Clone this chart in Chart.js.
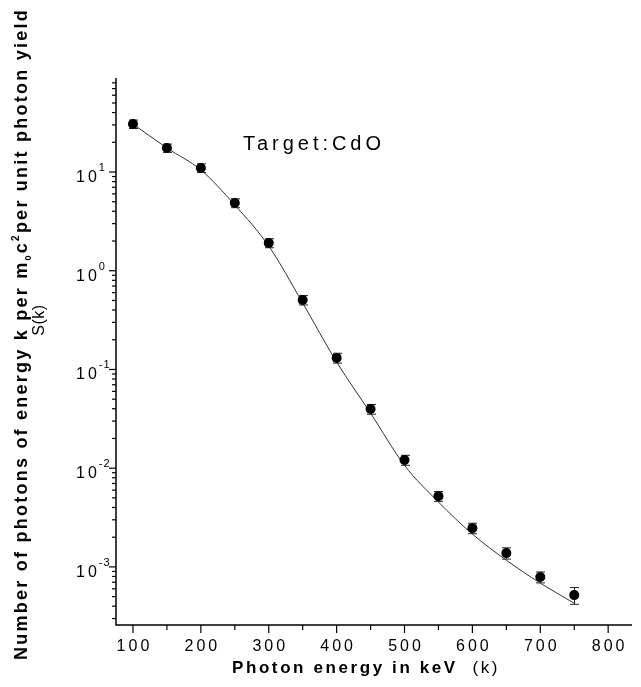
<!DOCTYPE html>
<html>
<head>
<meta charset="utf-8">
<script src="https://cdn.jsdelivr.net/npm/chart.js@4.4.1/dist/chart.umd.min.js"></script>
<style>
  html, body { margin: 0; padding: 0; background: #fff; }
</style>
</head>
<body>
<canvas id="myChart" width="641" height="687"></canvas>
<script>
// photon energy k in keV
const energies = [100, 150, 200, 250, 300, 350, 400, 450, 500, 550, 600, 650, 700, 750];
const measured = [30.6, 17.5, 11.0, 4.85, 1.91, 0.505, 0.131, 0.0397, 0.0121, 0.00521, 0.00247, 0.00138, 0.000789, 0.000518];
// error bar half-heights
const measuredErr = [3.0, 1.7, 1.1, 0.5, 0.2, 0.055, 0.015, 0.0045, 0.0014, 0.0006, 0.0003, 0.00018, 0.0001, 0.0001];
// fitted curve through the points
const fitted = [30.6, 17.5, 10.5, 4.63, 1.78, 0.471, 0.119, 0.0361, 0.0107, 0.00454, 0.00215, 0.00117, 0.000685, 0.000429];

const xTickLabels = [100, 200, 300, 400, 500, 600, 700, 800];
const xMinorTicks = [150, 250, 350, 450, 550, 650, 750];
const yMajorTicks = [10, 1, 0.1, 0.01, 0.001];
const yExponents = ["1", "0", "-1", "-2", "-3"];
const yMinorMultipliers = [2, 3, 4, 5, 6, 7, 8, 9];

const FONT = "'Liberation Sans', Arial, sans-serif";

// helper: draw text runs with letter spacing, returns width
function drawRuns(ctx, runs, x, y, spacing) {
  let cx = x;
  runs.forEach(r => {
    ctx.font = r.font;
    ctx.letterSpacing = spacing + "px";
    ctx.fillText(r.t, cx, y + (r.dy || 0));
    cx += ctx.measureText(r.t).width;
  });
  return cx - x;
}
function runsWidth(ctx, runs, spacing) {
  let w = 0;
  runs.forEach(r => {
    ctx.font = r.font;
    ctx.letterSpacing = spacing + "px";
    w += ctx.measureText(r.t).width;
  });
  return w;
}

const axesPlugin = {
  id: "axesPlugin",
  beforeDatasetsDraw(chart) {
    // error bars under the markers
    const ctx = chart.ctx;
    const xs = chart.scales.x, ys = chart.scales.y;
    ctx.save();
    ctx.strokeStyle = "#222";
    ctx.lineWidth = 1;
    energies.forEach((e, i) => {
      const px = Math.round(xs.getPixelForValue(e)) + 0.5;
      const top = ys.getPixelForValue(measured[i] + measuredErr[i]);
      const bot = ys.getPixelForValue(measured[i] - measuredErr[i]);
      ctx.beginPath();
      ctx.moveTo(px, top); ctx.lineTo(px, bot);
      ctx.moveTo(px - 4.5, top); ctx.lineTo(px + 4.5, top);
      ctx.moveTo(px - 4.5, bot); ctx.lineTo(px + 4.5, bot);
      ctx.stroke();
    });
    ctx.restore();
  },
  afterDraw(chart) {
    const ctx = chart.ctx;
    const a = chart.chartArea;
    const xs = chart.scales.x, ys = chart.scales.y;
    ctx.save();
    ctx.strokeStyle = "#000";
    ctx.fillStyle = "#000";
    ctx.lineWidth = 1.5;

    // axis lines
    ctx.beginPath();
    ctx.moveTo(a.left, a.top);
    ctx.lineTo(a.left, a.bottom);
    ctx.lineTo(a.right - 4, a.bottom);
    ctx.stroke();

    // y ticks
    ctx.lineWidth = 1.2;
    yMajorTicks.forEach(v => {
      const py = ys.getPixelForValue(v);
      ctx.beginPath(); ctx.moveTo(a.left, py); ctx.lineTo(a.left - 7, py); ctx.stroke();
    });
    yMajorTicks.forEach(dec => {
      yMinorMultipliers.forEach(m => {
        const v = dec * m;
        if (v > ys.max || v < ys.min) return;
        const py = ys.getPixelForValue(v);
        ctx.beginPath(); ctx.moveTo(a.left, py); ctx.lineTo(a.left - 4, py); ctx.stroke();
      });
    });
    // minor ticks below lowest decade
    yMinorMultipliers.forEach(m => {
      const v = yMajorTicks[yMajorTicks.length - 1] / 10 * m;
      if (v < ys.min) return;
      const py = ys.getPixelForValue(v);
      ctx.beginPath(); ctx.moveTo(a.left, py); ctx.lineTo(a.left - 4, py); ctx.stroke();
    });

    // x ticks
    xTickLabels.forEach(v => {
      const px = xs.getPixelForValue(v);
      ctx.beginPath(); ctx.moveTo(px, a.bottom); ctx.lineTo(px, a.bottom + 8); ctx.stroke();
    });
    xMinorTicks.forEach(v => {
      const px = xs.getPixelForValue(v);
      ctx.beginPath(); ctx.moveTo(px, a.bottom); ctx.lineTo(px, a.bottom + 5); ctx.stroke();
    });

    // x tick labels
    ctx.textBaseline = "alphabetic";
    ctx.textAlign = "left";
    xTickLabels.forEach(v => {
      const px = xs.getPixelForValue(v);
      const runs = [{ t: String(v), font: "16px " + FONT }];
      const w = runsWidth(ctx, runs, 3) - 3;
      drawRuns(ctx, runs, px - w / 2, a.bottom + 26, 3);
    });

    // y tick labels: 10 with superscript exponent
    yMajorTicks.forEach((v, i) => {
      const py = ys.getPixelForValue(v);
      ctx.font = "16px " + FONT;
      ctx.letterSpacing = "3px";
      ctx.fillText("10", 76, py + 10);
      const w = ctx.measureText("10").width;
      ctx.font = "11px " + FONT;
      ctx.letterSpacing = "1px";
      ctx.fillText(yExponents[i], 76 + w - 1, py - 1);
    });

    // x axis title
    const xRuns = [
      { t: "Photon energy in keV", font: "bold 17px " + FONT },
      { t: "  (k)", font: "17px " + FONT }
    ];
    const xSp = 2.6;
    const xw = runsWidth(ctx, xRuns, xSp);
    drawRuns(ctx, xRuns, 366 - xw / 2, 673, xSp);

    // y axis title (rotated)
    const yRuns = [
      { t: "Number of photons of energy k per m", font: "bold 18px " + FONT },
      { t: "0", font: "bold 9px " + FONT, dy: 4 },
      { t: "c", font: "bold 18px " + FONT },
      { t: "2", font: "bold 10px " + FONT, dy: -8 },
      { t: "per unit photon yield", font: "bold 18px " + FONT }
    ];
    const targetLen = 652;
    const base = runsWidth(ctx, yRuns, 0);
    const nChars = yRuns.reduce((s, r) => s + r.t.length, 0);
    const ySp = (targetLen - base) / nChars;
    ctx.save();
    ctx.translate(27, 334);
    ctx.rotate(-Math.PI / 2);
    drawRuns(ctx, yRuns, -targetLen / 2, 0, ySp);
    ctx.restore();

    ctx.save();
    ctx.translate(44, 320);
    ctx.rotate(-Math.PI / 2);
    ctx.font = "16px " + FONT;
    ctx.letterSpacing = "0.5px";
    ctx.textAlign = "center";
    ctx.fillText("S(k)", 0, 0);
    ctx.restore();

    // annotation
    const tRuns = [{ t: "Target:CdO", font: "20px " + FONT }];
    const tSp = (142 - runsWidth(ctx, tRuns, 0)) / 10;
    drawRuns(ctx, tRuns, 243, 150, tSp);

    ctx.restore();
  }
};

const ctx = document.getElementById("myChart").getContext("2d");
const chart = new Chart(ctx, {
  type: "line",
  data: {
    labels: energies,
    datasets: [
      {
        label: "fit",
        data: energies.map((e, i) => ({ x: e, y: fitted[i] })),
        borderColor: "#333",
        borderWidth: 1,
        pointRadius: 0,
        fill: false,
        cubicInterpolationMode: "monotone",
        order: 2
      },
      {
        label: "S(k)",
        data: energies.map((e, i) => ({ x: e, y: measured[i] })),
        showLine: false,
        pointRadius: 5,
        pointBackgroundColor: "#000",
        pointBorderColor: "#000",
        pointBorderWidth: 0,
        order: 1
      }
    ]
  },
  options: {
    responsive: false,
    devicePixelRatio: 1,
    animation: false,
    layout: { padding: { left: 116, top: 78, right: 0, bottom: 62 } },
    plugins: { legend: { display: false }, tooltip: { enabled: false } },
    scales: {
      x: { type: "linear", min: 75, max: 841, display: false },
      y: { type: "logarithmic", min: 2.58e-4, max: 89.6, display: false }
    }
  },
  plugins: [axesPlugin]
});
</script>
</body>
</html>
